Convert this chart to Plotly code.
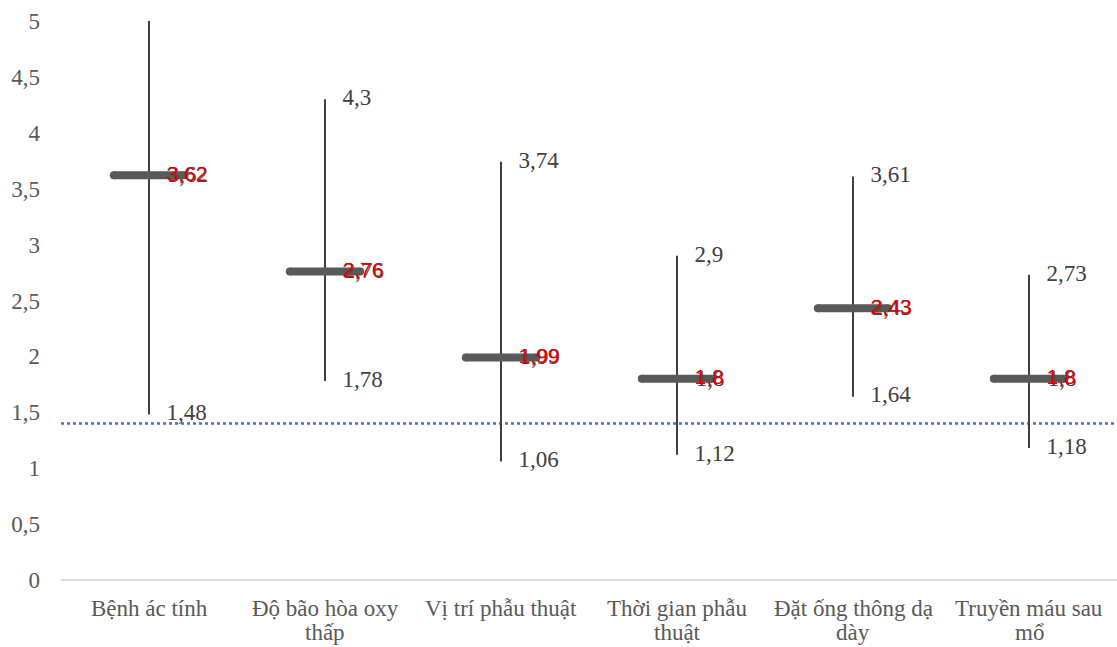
import plotly.graph_objects as go

categories = [
    "Bệnh ác tính",
    "Độ bão hòa oxy<br>thấp",
    "Vị trí phẫu thuật",
    "Thời gian phẫu<br>thuật",
    "Đặt ống thông dạ<br>dày",
    "Truyền máu sau<br>mổ",
]
high_values = [5.0, 4.3, 3.74, 2.9, 3.61, 2.73]
low_values = [1.48, 1.78, 1.06, 1.12, 1.64, 1.18]
mean_values = [3.62, 2.76, 1.99, 1.8, 2.43, 1.8]
reference_level = 1.4
y_max = 5

GRAY_TEXT = "#595959"
BAR = "#595959"
SERIF = "Liberation Serif, Times New Roman, serif"
SANS = "Liberation Sans, Arial, sans-serif"


def fmt(v):
    return f"{v:g}".replace(".", ",")


xs = list(range(len(categories)))
half = 0.2       # half width of mean bar in category units
lab_dx = 0.1     # label offset from the whisker

fig = go.Figure()

# dotted reference line
fig.add_trace(go.Scatter(
    x=[-0.5, len(categories) - 0.5], y=[reference_level, reference_level],
    mode="lines", line=dict(color="#4472C4", width=2.5, dash="dot"),
    hoverinfo="skip", showlegend=False, cliponaxis=False,
))

# high-low whiskers
wx, wy = [], []
for x, lo, hi in zip(xs, low_values, high_values):
    wx += [x, x, None]
    wy += [lo, min(hi, y_max), None]
fig.add_trace(go.Scatter(
    x=wx, y=wy, mode="lines", line=dict(color="#404040", width=2),
    hoverinfo="skip", showlegend=False,
))

# mean bars
mx, my = [], []
for x, m in zip(xs, mean_values):
    mx += [x - half, x + half, None]
    my += [m, m, None]
fig.add_trace(go.Scatter(
    x=mx, y=my, mode="lines", line=dict(color=BAR, width=8),
    hoverinfo="skip", showlegend=False,
))
# rounded ends of the mean bars
ex, ey = [], []
for x, m in zip(xs, mean_values):
    ex += [x - half, x + half]
    ey += [m, m]
fig.add_trace(go.Scatter(
    x=ex, y=ey, mode="markers", marker=dict(color=BAR, size=8, line=dict(width=0)),
    hoverinfo="skip", showlegend=False,
))

# high / low labels
hx = [x + lab_dx for x, h in zip(xs, high_values) if h < y_max]
hy = [h for h in high_values if h < y_max]
ht = [fmt(h) for h in high_values if h < y_max]
fig.add_trace(go.Scatter(
    x=hx, y=hy, text=ht, mode="text", textposition="middle right",
    textfont=dict(family=SERIF, size=23, color="#404040"),
    hoverinfo="skip", showlegend=False,
))
fig.add_trace(go.Scatter(
    x=[x + lab_dx for x in xs], y=low_values, text=[fmt(v) for v in low_values],
    mode="text", textposition="middle right",
    textfont=dict(family=SERIF, size=23, color="#404040"),
    hoverinfo="skip", showlegend=False,
))

# mean labels (gray close label under red mean label)
fig.add_trace(go.Scatter(
    x=[x + lab_dx + 0.006 for x in xs], y=[m - 0.01 for m in mean_values],
    text=[fmt(v) for v in mean_values],
    mode="text", textposition="middle right",
    textfont=dict(family=SERIF, size=23, color="#404040"),
    hoverinfo="skip", showlegend=False,
))
fig.add_trace(go.Scatter(
    x=[x + lab_dx for x in xs], y=mean_values, text=[fmt(v) for v in mean_values],
    mode="text", textposition="middle right",
    textfont=dict(family=SANS, size=21, color="#E00000"),
    hoverinfo="skip", showlegend=False,
))

# category labels, one annotation per wrapped line
for x, cat in zip(xs, categories):
    for i, line in enumerate(cat.split("<br>")):
        fig.add_annotation(
            x=x, xref="x", y=0, yref="paper",
            text=line, showarrow=False,
            yanchor="middle", yshift=-28 - 24 * i,
            font=dict(family=SERIF, size=23, color=GRAY_TEXT),
        )

fig.update_layout(
    width=1117, height=647,
    margin=dict(l=61, r=0, t=21, b=67),
    paper_bgcolor="white", plot_bgcolor="white",
    separators=", ",
    showlegend=False,
    xaxis=dict(
        range=[-0.5, len(categories) - 0.5],
        tickmode="array", tickvals=xs, showticklabels=False,
        showgrid=False, zeroline=False, showline=False, ticks="",
    ),
    yaxis=dict(
        range=[0, y_max], dtick=0.5, tick0=0,
        showgrid=False, zeroline=True, zerolinecolor="#D9D9D9", zerolinewidth=1.5,
        showline=False, ticks="",
        tickfont=dict(family=SERIF, size=23, color=GRAY_TEXT),
        ticklabelstandoff=20,
    ),
)

fig.write_html("out.html")
